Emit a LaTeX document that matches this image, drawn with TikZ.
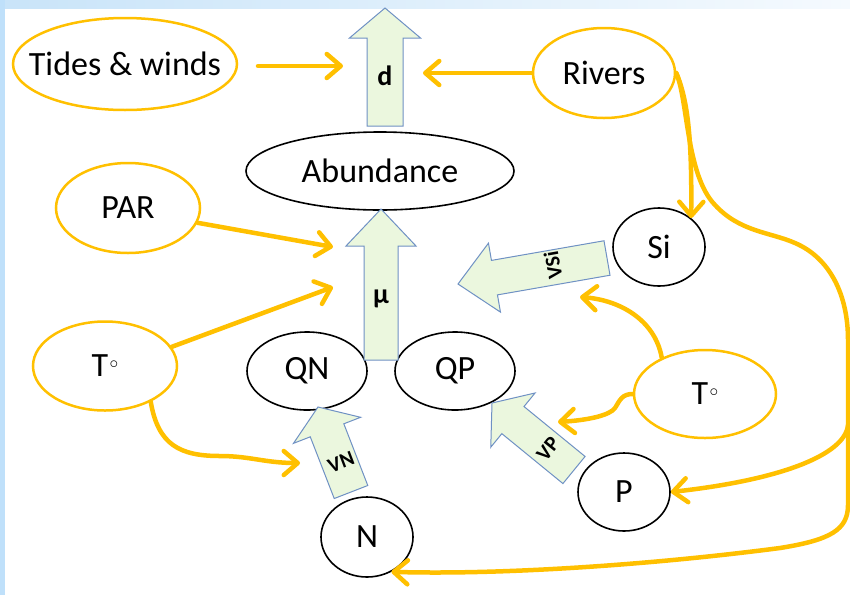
\documentclass[tikz,border=0pt]{standalone}
\usepackage{fontspec}
\setmainfont{Carlito}
\usetikzlibrary{shapes.geometric,arrows.meta,calc}
\definecolor{gold}{HTML}{FFC000}
\definecolor{arfill}{HTML}{EBF7DE}
\definecolor{arline}{HTML}{6F91C4}
\definecolor{stripL}{HTML}{BFE0FA}
\definecolor{stripA}{HTML}{C9E4F9}
\definecolor{stripB}{HTML}{F5FAFE}
% name, tail, tip, half shaft width, half head width, head length
\newcommand\blockarr[6]{%
  \coordinate (#1-b) at ($(#3)!#6!(#2)$);
  \draw[blockar] ($(#2)!#4!90:(#3)$) -- ($(#1-b)!#4!90:(#3)$) -- ($(#1-b)!#5!90:(#3)$) -- (#3)
    -- ($(#1-b)!#5!-90:(#3)$) -- ($(#1-b)!#4!-90:(#3)$) -- ($(#2)!#4!-90:(#3)$) -- cycle;
}
\newcommand\tdeg{T\kern1.5pt\raisebox{8pt}{\fontsize{17}{17}\selectfont$\circ$}}
\begin{document}
\begin{tikzpicture}[x=1pt,y=-1pt,
  oval/.style={ellipse, draw, line width=1.6pt, inner sep=0pt, font=\fontsize{34}{40}\selectfont},
  goval/.style={oval, draw=gold, line width=2.5pt},
  otext/.style={inner sep=0pt, font=\fontsize{34}{40}\selectfont},
  conn/.style={gold, line width=4.5pt, line cap=round, -{Straight Barb[length=14pt,width=24pt,round]}},
  blockar/.style={fill=arfill, draw=arline, line width=1pt, line join=miter},
  lab/.style={font=\fontsize{28}{30}\selectfont\bfseries, inner sep=0pt},
  slab/.style={font=\fontsize{21}{23}\selectfont\bfseries, inner sep=0pt}]

\useasboundingbox (0,0) rectangle (850,595);
\fill[white] (0,0) rectangle (850,595);
\shade[left color=stripA, right color=stripB] (0,0) rectangle (850,8);
\fill[stripL] (0,0) rectangle (5,595);

% ellipses
\node[goval, minimum width=224pt, minimum height=92pt] (tides) at (125,64) {};
\node[otext] (tides-t) at (tides.center) {Tides \& winds};
\node[goval, minimum width=142pt, minimum height=90pt] (rivers) at (604,73) {Rivers};
\node[oval, minimum width=268pt, minimum height=78pt] (abund) at (380,171) {Abundance};
\node[goval, minimum width=144pt, minimum height=90pt] (par) at (128,208) {PAR};
\node[goval, minimum width=144pt, minimum height=89pt] (tl) at (105,366) {\tdeg};
\node[oval, minimum width=120pt, minimum height=78pt] (qn) at (307,371) {QN};
\node[oval, minimum width=120pt, minimum height=78pt] (qp) at (455,371) {QP};
\node[oval, minimum width=92pt, minimum height=78pt] (si) at (659,247) {Si};
\node[goval, minimum width=142pt, minimum height=88pt] (tr) at (705,394) {\tdeg};
\node[oval, minimum width=92pt, minimum height=78pt] (p) at (624,492) {P};
\node[oval, minimum width=92pt, minimum height=80pt] (n) at (367,537) {N};

% block arrows
\coordinate (d-tail) at (385,126); \coordinate (d-tip) at (385,8);
\coordinate (mu-tail) at (381,360); \coordinate (mu-tip) at (381,209);
\coordinate (vsi-tail) at (607,258); \coordinate (vsi-tip) at (458,284);
\coordinate (vn-tail) at (351,492); \coordinate (vn-tip) at (318,407);
\coordinate (vp-tail) at (574,470); \coordinate (vp-tip) at (492,403);
\blockarr{d}{d-tail}{d-tip}{18pt}{35.5pt}{30pt}
\blockarr{mu}{mu-tail}{mu-tip}{17pt}{35pt}{37pt}
\blockarr{vsi}{vsi-tail}{vsi-tip}{17.5pt}{35pt}{37pt}
\blockarr{vn}{vn-tail}{vn-tip}{18pt}{36pt}{25pt}
\blockarr{vp}{vp-tail}{vp-tip}{17.5pt}{35pt}{27pt}
\node[lab] (d-lab) at (385,76) {d};
\node[lab] (mu-lab) at (381,299) {μ};
\node[slab, rotate=100] (vsi-lab) at (553,265) {VSi};
\node[slab, rotate=21] (vn-lab) at (341,462) {VN};
\node[slab, rotate=51] (vp-lab) at (548,449) {VP};

% connector ends
\coordinate (tw-start) at (258,66);
\coordinate (tw-end) at (343,66);
\coordinate (rv-end) at (423,73);
\coordinate (par-end) at (333,247);
\coordinate (tmu-end) at (333,287);
\coordinate (tvn-end) at (300,463);
\coordinate (tvsi-end) at (580,297);
\coordinate (tvp-end) at (558,422);
\coordinate (pj) at (848,425);

% connectors
\draw[conn] (tw-start) -- (tw-end);
\draw[conn] (rivers.west) -- (rv-end);
\draw[conn] (par.-12) -- (par-end);
\draw[conn] (tl.16) -- (tmu-end);
\draw[conn] (tl.-38) .. controls (158,445) and (180,456) .. (220,456)
  .. controls (250,456) and (265,463) .. (tvn-end);
\draw[conn] (rivers.east) .. controls (688,100) and (692,140) .. (si.42);
\draw[conn] (rivers.east) .. controls (688,100) and (686,175) .. (715,205)
  .. controls (740,232) and (770,232) .. (795,243)
  .. controls (830,258) and (848,295) .. (848,340) -- (848,505)
  .. controls (848,530) and (830,540) .. (780,548)
  .. controls (650,565) and (500,575) .. (n.-55);
\draw[conn] (pj) .. controls (845,455) and (780,480) .. (p.east);
\draw[conn] (tr.140) .. controls (655,320) and (620,300) .. (tvsi-end);
\draw[conn] (tr.west) .. controls (622,394) and (620,400) .. (615,408)
  .. controls (610,415) and (590,420) .. (tvp-end);
\end{tikzpicture}
\end{document}
